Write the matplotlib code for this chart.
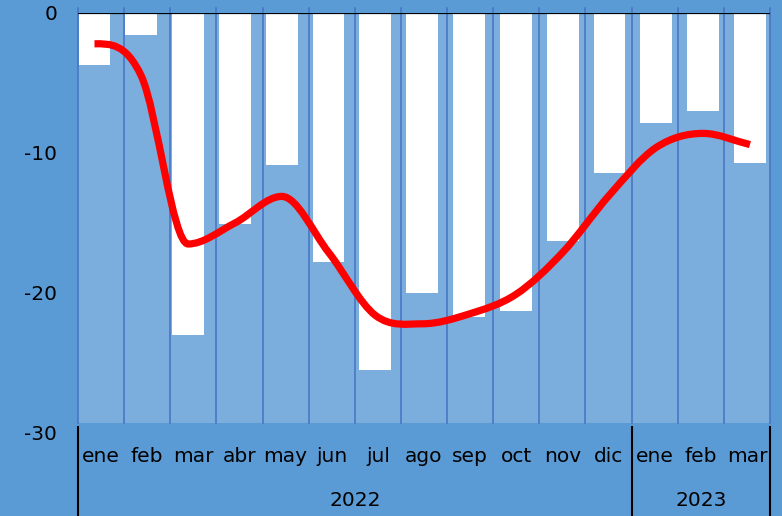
import numpy as np
import matplotlib
matplotlib.use('Agg')
import matplotlib.pyplot as plt
from matplotlib.path import Path
from matplotlib.patches import PathPatch, Rectangle
from matplotlib.lines import Line2D

months = ['ene', 'feb', 'mar', 'abr', 'may', 'jun', 'jul', 'ago', 'sep', 'oct', 'nov', 'dic',
          'ene', 'feb', 'mar']
years = ['2022', '2023']
year_len = [12, 3]

# white bars
bar_vals = [-3.7, -1.55, -23.0, -15.1, -10.85, -17.8, -25.5, -20.0, -21.7, -21.3, -16.3, -11.4,
            -7.85, -7.0, -10.7]
# red smoothed line
line_vals = [-2.2, -4.5, -16.5, -15.0, -13.1, -17.1, -21.6, -22.2, -21.5, -20.1, -17.1, -13.0,
             -9.6, -8.6, -9.4]

outer = '#5B9BD5'
inner = '#7BAEDC'
grid = '#4472C4'
fs = 14.5


def smooth_path(y):
    # cubic bezier through the points, flat at local peaks / dips
    n = len(y)
    m = np.zeros(n)
    for i in range(1, n - 1):
        if (y[i] - y[i - 1]) * (y[i + 1] - y[i]) > 0:
            m[i] = (y[i + 1] - y[i - 1]) / 2
    m[-1] = y[-1] - y[-2]
    verts = [(0, y[0])]
    codes = [Path.MOVETO]
    for i in range(n - 1):
        verts += [(i + 1 / 3, y[i] + m[i] / 3), (i + 2 / 3, y[i + 1] - m[i + 1] / 3), (i + 1, y[i + 1])]
        codes += [Path.CURVE4] * 3
    return Path(verts, codes)


fig = plt.figure(figsize=(7.82, 5.16), dpi=100, facecolor=outer)
ax = fig.add_axes([78 / 782, (516 - 433) / 516, 692 / 782, 420 / 516])
ax.patch.set_visible(False)
ax.set_xlim(0, 15)
ax.set_ylim(-30, 0)
for s in ax.spines.values():
    s.set_visible(False)

light_bottom = 10 / 420
ax.add_patch(Rectangle((0, light_bottom), 1, 1 - light_bottom, transform=ax.transAxes,
                       facecolor=inner, edgecolor='none', zorder=0))
for k in range(len(months) + 1):
    ax.axvline(k, ymin=light_bottom, ymax=1.012, color=grid, lw=1.1, clip_on=False, zorder=1)

ax.set_xticks([])
ax.set_yticks([0, -10, -20, -30])
ax.set_yticklabels(['0', '-10', '-20', '-30'])
ax.tick_params(axis='y', length=0, pad=15, labelsize=fs, labelcolor='black')

trans = ax.get_xaxis_transform()
for i, m in enumerate(months):
    ax.text(i + 0.5, -0.057, m, transform=trans, ha='center', va='center', fontsize=fs)

start = 0
bounds = [0]
for yr, n in zip(years, year_len):
    ax.text(start + n / 2, -0.160, yr, transform=trans, ha='center', va='center', fontsize=fs)
    start += n
    bounds.append(start)
for b in bounds:
    ax.add_line(Line2D([b, b], [0.014, -0.2], transform=trans, color='black', lw=1.5,
                       clip_on=False))

# bars and line sit on their own x scale
ax2 = ax.twiny()
ax2.patch.set_visible(False)
ax2.set_xlim(-0.352, 14.428)
ax2.set_xticks([])
for s in ax2.spines.values():
    s.set_visible(False)

x = np.arange(len(bar_vals))
ax2.bar(x, bar_vals, width=0.68, color='white', zorder=2)
ax2.add_patch(PathPatch(smooth_path(line_vals), fill=False, edgecolor='#FF0000', lw=5.2,
                        capstyle='butt', joinstyle='round', zorder=4))
ax2.axhline(0, color='black', lw=1.6, zorder=5)

fig.savefig('out.png', dpi=100, facecolor=outer)
